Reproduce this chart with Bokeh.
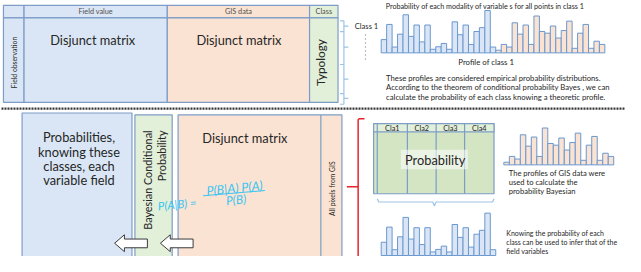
import numpy as np
from bokeh.plotting import figure
from bokeh.models import Range1d
from bokeh.core.properties import value
from bokeh.embed import file_html
from bokeh.resources import INLINE

# ---------------- data ----------------
# relative frequency of each modality (profile of class 1)
field_profile = [13.7, 29.3, 6, 19.3, 39.3, 17, 28.7, 11.3, 28.7, 3.7, 6.3,
                 9.7, 3.7, 32, 18.7, 28.7, 8.7, 22, 26, 43.7, 6]
gis_profile = [2.7, 8.7, 6, 31, 19.3, 28.7, 8.7, 38, 22, 20.3, 27.7,
               15.3, 23, 32.7, 4.7, 20.3, 29.3, 4.7, 12, 8.7]
class_labels = ["Cla1", "Cla2", "Cla3", "Cla4"]
top_headers = ["Field value", "GIS data", "Class"]
para_top = ["These profiles are considered empirical probability distributions.",
            "According to the theorem of conditional probability Bayes , we can",
            "calculate the probability of each class knowing a theoretic profile."]
para_gis = ["The profiles of GIS data were", "used to calculate the", "probability Bayesian"]
para_know = ["Knowing the probability of each", "class can be used to infer that of the", "field variables"]
prob_lines = ["Probabilities,", "knowing these", "classes, each", "variable field"]

# ---------------- styles ----------------
BLUE = "#dae6f5"
PEACH = "#fbe3d3"
GREEN = "#e2efd9"
GREEN2 = "#d3e5c3"
BORDER = "#7d9dc8"
BARLINE = "#6a98cf"
TXT = "#262626"
FONT = value("Lato")

p = figure(width=625, height=256, x_range=Range1d(2, 639), y_range=Range1d(272, 8),
           output_backend="svg", toolbar_location=None, min_border=0)
p.axis.visible = False
p.grid.visible = False
p.outline_line_color = None
p.background_fill_color = "white"


def box(l, r, t, b, fill, line=BORDER, lw=1.2, alpha=1.0):
    p.quad(left=[l], right=[r], top=[t], bottom=[b], fill_color=fill, fill_alpha=alpha,
           line_color=line, line_width=lw)


def txt(x, y, s, size, align="center", angle=0.0, color=TXT, style="normal", font=FONT):
    p.text(x=[x], y=[y], text=[s], text_font=font, text_font_size=f"{size}px",
           text_align=align, text_baseline="middle", angle=angle, text_color=color,
           text_font_style=style)


def hist(vals, x0, w, base, fill):
    xs = x0 + w * (np.arange(len(vals)) + 0.5)
    p.vbar(x=xs, width=w, bottom=base, top=base - np.array(vals, dtype=float),
           fill_color=fill, line_color=BARLINE, line_width=1)

# ---------------- top table ----------------
box(5, 26, 13, 26, BLUE)
box(26, 172, 13, 26, BLUE)
box(172, 317, 13, 26, PEACH)
box(317, 346, 13, 26, GREEN)
box(5, 26, 26, 113, BLUE)
box(26, 172, 26, 113, BLUE)
box(172, 317, 26, 113, PEACH)
box(317, 346, 26, 113, GREEN)
for cx, s in zip([99, 244.5, 331.5], top_headers):
    txt(cx, 19.5, s, 7.3, color="#505050")
txt(96, 49, "Disjunct matrix", 12.8)
txt(245, 49, "Disjunct matrix", 12.8)
txt(328.5, 72, "Typology", 11.8, angle=np.pi / 2)
txt(15.5, 72, "Field observation", 6.8, angle=np.pi / 2)

# brace next to table
BR = "#9dc3e6"
p.line(x=[352, 352], y=[29, 115], line_color=BR, line_width=1.2)
for yy in [29, 40, 74, 104, 115]:
    p.line(x=[348, 352], y=[yy, yy], line_color=BR, line_width=1.2)
for yy in [34.5, 56, 89, 109]:
    p.line(x=[352, 356.5], y=[yy, yy], line_color=BR, line_width=1.2)
txt(363, 34, "Class 1", 7.6, align="left")
p.line(x=[374, 374], y=[43, 70], line_color="#808080", line_width=1.2, line_dash="1 3")

# top profile
txt(497, 14, "Probability of each modality of  variable s for all points in class 1", 7.2)
W = 5.56
hist(field_profile, 390, W, 62, BLUE)
hist(gis_profile, 390 + W * len(field_profile), W, 62, PEACH)
txt(497, 71.5, "Profile of class 1", 7.8)
for i, s in enumerate(para_top):
    txt(395, 87.5 + 10 * i, s, 7.7, align="left")

# dotted separator
p.line(x=[3, 638], y=[119.5, 119.5], line_color="#383838", line_width=2.2, line_dash="2 1")

# ---------------- bottom part ----------------
box(24, 136, 124, 285, BLUE)
for i, s in enumerate(prob_lines):
    txt(82, 149 + 14.8 * i, s, 12.8)
box(139, 177, 126, 285, GREEN)
txt(151.5, 142, "Bayesian Conditional", 10.8, align="right", angle=np.pi / 2)
txt(166.5, 142, "Probability", 10.8, align="right", angle=np.pi / 2)
box(183, 350, 126, 285, PEACH)
p.line(x=[328.5, 328.5], y=[126, 285], line_color=BORDER, line_width=1.2)
txt(251, 149.5, "Disjunct matrix", 12.8)
txt(339.5, 202, "All pixels from GIS", 6.8, angle=np.pi / 2)

# Bayes formula (ink style)
CY = "#38c4f2"
ang = 0.1
txt(182, 218, "P(A|B) =", 11.5, angle=ang, color=CY, style="italic")
txt(240.5, 201.5, "P(B|A) P(A)", 12.5, angle=ang, color=CY, style="italic")
p.line(x=[208.5, 271.5], y=[209.3, 204], line_color=CY, line_width=1.1)
txt(242, 213.5, "P(B)", 12, angle=ang, color=CY, style="italic")

# hollow arrows
for tip, base, tail in [(118.3, 128.3, 151.7), (165, 175, 198.3)]:
    p.patch(x=[tip, base, base, tail, tail, base, base],
            y=[258.3, 249.6, 254, 254, 263, 263, 267],
            fill_color="white", line_color="#3a3a3a", line_width=1)

# red bracket
RED = "#e8232b"
p.line(x=[373, 367.5, 366.5, 366.5], y=[130, 130, 131, 280], line_color=RED, line_width=1.5)
p.line(x=[355, 366.5], y=[200, 200], line_color=RED, line_width=1.5)

# probability table
cols = [386, 416.7, 446, 475, 505]
box(382.3, 505, 135, 207.3, GREEN2, lw=1.2)
box(382.3, 505, 135, 143.5, GREEN, lw=1.2)
for xx in cols[:-1]:
    p.line(x=[xx, xx], y=[135, 207.3], line_color=BORDER, line_width=1.2)
for i, s in enumerate(class_labels):
    txt((cols[i] + cols[i + 1]) / 2, 139.5, s, 7.3)
box(410, 478.3, 162, 182, "white", line=None, alpha=0.55)
txt(445, 172, "Probability", 12.8)
p.line(x=[386, 387.5, 442.5, 444.3, 446, 503.5, 505],
       y=[212.5, 215.8, 215.8, 219.8, 215.8, 215.8, 212.5], line_color=BR, line_width=1.2)

# GIS profile (right) and field profile (bottom)
hist(gis_profile, 515, 5.6, 177.5, PEACH)
for i, s in enumerate(para_gis):
    txt(520, 185.5 + 9.6 * i, s, 7.6, align="left")
hist(field_profile, 390, W, 271, BLUE)
for i, s in enumerate(para_know):
    txt(517.5, 247.5 + 9.3 * i, s, 7.0, align="left")

open("out.html", "w").write(file_html(p, INLINE))
